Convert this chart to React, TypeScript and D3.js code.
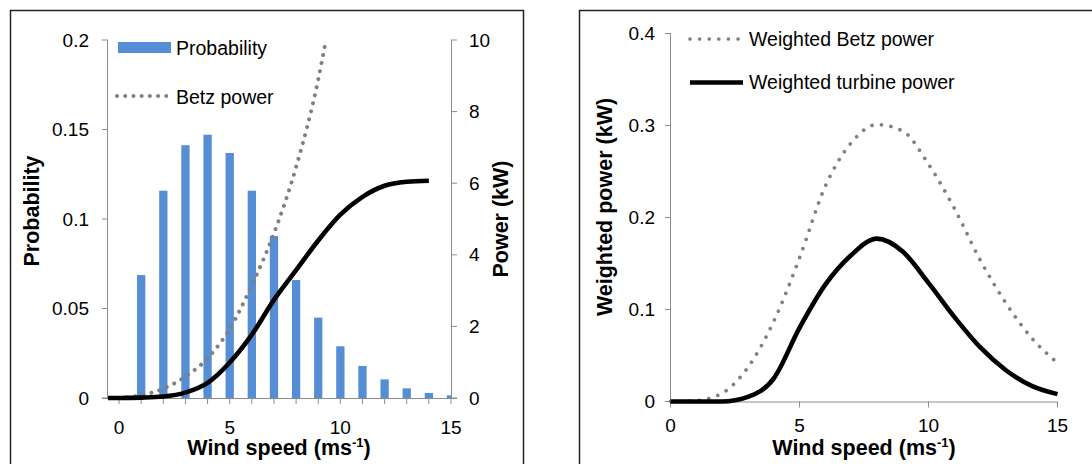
import React from 'react';
import * as d3 from 'd3';

// Wind speed bins (m/s) and their probability
const windBins = [1, 2, 3, 4, 5, 6, 7, 8, 9, 10, 11, 12, 13, 14, 15];
const probability = [0.0687, 0.1158, 0.1412, 0.1471, 0.1369, 0.1158, 0.0905, 0.0659, 0.0449, 0.0289, 0.0179, 0.0104, 0.0054, 0.0028, 0.0015];

// Turbine power curve (kW)
const turbineSpeed = [-0.5, 0, 1, 2, 3, 4, 5, 6, 7, 8, 9, 10, 11, 12, 13, 14];
const turbinePower = [0, 0, 0.01, 0.04, 0.15, 0.42, 0.99, 1.77, 2.74, 3.57, 4.4, 5.12, 5.62, 5.93, 6.04, 6.07];

// Betz limit power (kW)
const betzSpeed = [0, 1, 2, 3, 4, 5, 6, 7, 8, 9, 9.35];
const betzPower = [0, 0.08, 0.26, 0.6, 1.11, 1.93, 3.15, 4.6, 6.45, 8.9, 10];

// Probability-weighted power (kW)
const weightedSpeed = [0, 1, 2, 3, 4, 5, 6, 7, 8, 9, 10, 11, 12, 13, 14, 15];
const weightedBetz = [0, 0.001, 0.009, 0.037, 0.087, 0.156, 0.234, 0.281, 0.301, 0.294, 0.258, 0.21, 0.154, 0.107, 0.069, 0.042];
const weightedTurbine = [0, 0, 0, 0.005, 0.025, 0.08, 0.127, 0.159, 0.177, 0.163, 0.129, 0.092, 0.059, 0.034, 0.017, 0.008];

const probTicks = [0, 0.05, 0.1, 0.15, 0.2];
const probTickLabels = ['0', '0.05', '0.1', '0.15', '0.2'];
const powerTicks = [0, 2, 4, 6, 8, 10];
const speedTickMarks = [0, 1, 2, 3, 4, 5, 6, 7, 8, 9, 10, 11, 12, 13, 14, 15];
const speedTickLabels = [0, 5, 10, 15];
const weightedTicks = [0, 0.1, 0.2, 0.3, 0.4];
const weightedTickLabels = ['0', '0.1', '0.2', '0.3', '0.4'];

const FONT = '"Liberation Sans", Arial, Helvetica, sans-serif';
const AXIS = '#8c8c8c';
const BAR = '#558ed5';
const DOT = '#808080';

const TICK_FS = 19;
const LEGEND_FS = 19.5;
const TITLE_FS = 21.5;

function SpeedTitle({ x, y }: { x: number; y: number }) {
  return (
    <text x={x} y={y} textAnchor="middle" fontFamily={FONT} fontWeight="bold" fontSize={TITLE_FS} fill="#000">
      Wind speed (ms
      <tspan fontSize={13} dy={-8}>-1</tspan>
      <tspan dy={8}>)</tspan>
    </text>
  );
}

export default function App() {
  // Left chart scales
  const xL = d3.scaleLinear().domain([-0.5, 15]).range([108, 451]);
  const yProb = d3.scaleLinear().domain([0, 0.2]).range([398, 40]);
  const yPow = d3.scaleLinear().domain([0, 10]).range([398, 40]);
  const barW = 8.3;

  // Right chart scales
  const xR = d3.scaleLinear().domain([0, 15]).range([670.5, 1057.5]);
  const yW = d3.scaleLinear().domain([0, 0.4]).range([401.5, 33.5]);

  const smooth = d3.curveMonotoneX;

  const turbineLine = d3
    .line<number>()
    .x((_, i) => xL(turbineSpeed[i]))
    .y((d) => yPow(d))
    .curve(smooth);
  const betzLine = d3
    .line<number>()
    .x((_, i) => xL(betzSpeed[i]))
    .y((d) => yPow(d))
    .curve(smooth);
  const wLine = d3
    .line<number>()
    .x((_, i) => xR(weightedSpeed[i]))
    .y((d) => yW(d))
    .curve(smooth);

  const [lx0, lx1] = xL.range();
  const [ly0, ly1] = yProb.range();
  const rx0 = 671;
  const [ry0, ry1] = yW.range();

  return (
    <svg
      width={1092}
      height={464}
      style={{ position: 'absolute', left: 0, top: 0, background: '#fff' }}
      fontFamily={FONT}
    >
      <rect x={0} y={0} width={1092} height={464} fill="#fff" />
      <defs>
        <clipPath id="leftPlot">
          <rect x={lx0} y={ly1} width={lx1 - lx0} height={ly0 - ly1} />
        </clipPath>
      </defs>

      {/* Panel frames */}
      <path d="M10.5,470 V10.5 H523.5 V470" fill="none" stroke="#222" strokeWidth={1.5} />
      <path d="M579.5,470 V10.5 H1100" fill="none" stroke="#222" strokeWidth={1.5} />

      {/* ===== Left chart ===== */}
      <g clipPath="url(#leftPlot)">
        {probability.map((p, i) => (
          <rect
            key={i}
            x={xL(windBins[i]) - barW / 2}
            y={yProb(p)}
            width={barW}
            height={yProb(0) - yProb(p)}
            fill={BAR}
          />
        ))}
      </g>

      {/* left axis */}
      <line x1={lx0 - 0.5} x2={lx0 - 0.5} y1={ly1} y2={ly0} stroke={AXIS} strokeWidth={1} />
      {probTicks.map((t, i) => (
        <g key={t}>
          <line x1={lx0 - 6} x2={lx0} y1={yProb(t)} y2={yProb(t)} stroke={AXIS} strokeWidth={1} />
          <text x={89} y={yProb(t)} dy="0.35em" textAnchor="end" fontSize={TICK_FS} fill="#000">
            {probTickLabels[i]}
          </text>
        </g>
      ))}
      {/* right axis */}
      <line x1={lx1 + 0.5} x2={lx1 + 0.5} y1={ly1} y2={ly0} stroke={AXIS} strokeWidth={1} />
      {powerTicks.map((t) => (
        <g key={t}>
          <line x1={lx1} x2={lx1 + 6} y1={yPow(t)} y2={yPow(t)} stroke={AXIS} strokeWidth={1} />
          <text x={469} y={yPow(t)} dy="0.35em" textAnchor="start" fontSize={TICK_FS} fill="#000">
            {t}
          </text>
        </g>
      ))}
      {/* bottom axis */}
      <line x1={lx0 - 6} x2={lx1 + 6} y1={ly0 + 0.5} y2={ly0 + 0.5} stroke={AXIS} strokeWidth={1} />
      {speedTickMarks.map((t) => (
        <line key={t} x1={xL(t)} x2={xL(t)} y1={ly0} y2={ly0 + 6} stroke={AXIS} strokeWidth={1} />
      ))}
      {speedTickLabels.map((t) => (
        <text key={t} x={xL(t)} y={434} textAnchor="middle" fontSize={TICK_FS} fill="#000">
          {t}
        </text>
      ))}

      {/* lines */}
      <path
        d={betzLine(betzPower) ?? ''}
        fill="none"
        stroke={DOT}
        strokeWidth={4}
        strokeLinecap="round"
        strokeDasharray="0.01 8.2"
      />
      <path d={turbineLine(turbinePower) ?? ''} fill="none" stroke="#000" strokeWidth={4.6} />

      {/* legend */}
      <rect x={118} y={42} width={53} height={11} fill={BAR} />
      <text x={176} y={55} fontSize={LEGEND_FS} fill="#000">Probability</text>
      <line x1={117} x2={168} y1={96} y2={96} stroke={DOT} strokeWidth={4} strokeLinecap="round" strokeDasharray="0.01 8.2" />
      <text x={176} y={104} fontSize={LEGEND_FS} fill="#000">Betz power</text>

      {/* titles */}
      <text transform="translate(39,211) rotate(-90)" textAnchor="middle" fontWeight="bold" fontSize={TITLE_FS} fill="#000">
        Probability
      </text>
      <text transform="translate(508,219) rotate(-90)" textAnchor="middle" fontWeight="bold" fontSize={TITLE_FS} fill="#000">
        Power (kW)
      </text>
      <SpeedTitle x={279} y={455} />

      {/* ===== Right chart ===== */}
      <line x1={rx0 - 0.5} x2={rx0 - 0.5} y1={ry1} y2={ry0} stroke={AXIS} strokeWidth={1} />
      {weightedTicks.map((t, i) => (
        <g key={t}>
          <line x1={rx0 - 6} x2={rx0} y1={yW(t)} y2={yW(t)} stroke={AXIS} strokeWidth={1} />
          <text x={655} y={yW(t)} dy="0.35em" textAnchor="end" fontSize={TICK_FS} fill="#000">
            {weightedTickLabels[i]}
          </text>
        </g>
      ))}
      <line x1={rx0 - 1} x2={xR(15) + 0.5} y1={ry0 + 0.5} y2={ry0 + 0.5} stroke={AXIS} strokeWidth={1} />
      {speedTickLabels.map((t) => (
        <g key={t}>
          <line x1={xR(t)} x2={xR(t)} y1={ry0} y2={ry0 + 6} stroke={AXIS} strokeWidth={1} />
          <text x={xR(t)} y={432} textAnchor="middle" fontSize={TICK_FS} fill="#000">
            {t}
          </text>
        </g>
      ))}

      <path
        d={wLine(weightedBetz) ?? ''}
        fill="none"
        stroke={DOT}
        strokeWidth={3.7}
        strokeLinecap="round"
        strokeDasharray="0.01 9.6"
      />
      <path d={wLine(weightedTurbine) ?? ''} fill="none" stroke="#000" strokeWidth={4.6} />

      {/* legend */}
      <line x1={690} x2={741} y1={39} y2={39} stroke={DOT} strokeWidth={3.7} strokeLinecap="round" strokeDasharray="0.01 9.6" />
      <text x={749} y={46} fontSize={LEGEND_FS} fill="#000">Weighted Betz power</text>
      <line x1={690} x2={743} y1={82.5} y2={82.5} stroke="#000" strokeWidth={4.6} />
      <text x={749} y={89} fontSize={LEGEND_FS} fill="#000">Weighted turbine power</text>

      <text transform="translate(612,207) rotate(-90)" textAnchor="middle" fontWeight="bold" fontSize={TITLE_FS} fill="#000">
        Weighted power (kW)
      </text>
      <SpeedTitle x={864} y={455} />
    </svg>
  );
}
